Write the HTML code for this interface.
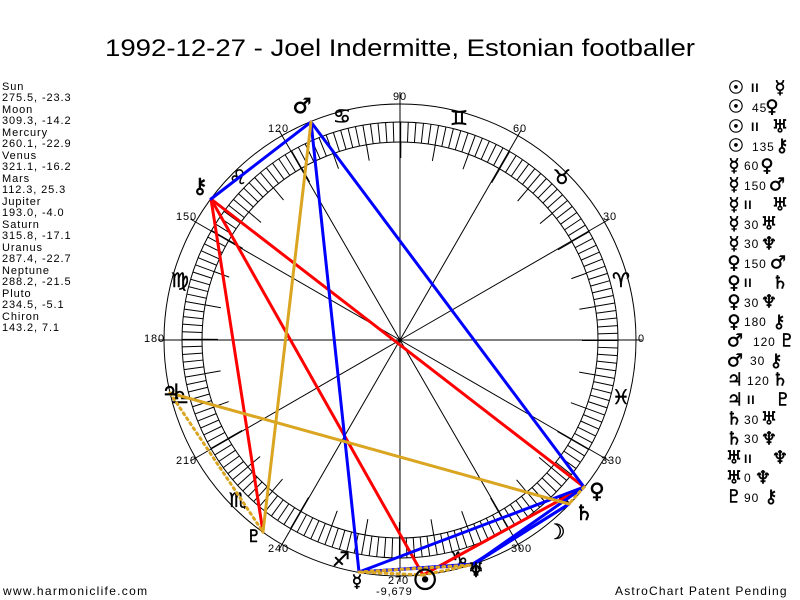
<!DOCTYPE html>
<html><head><meta charset="utf-8"><style>
body{margin:0;background:#fff;width:800px;height:600px;overflow:hidden;}
svg{display:block}
.g{font-family:"DejaVu Sans",sans-serif;}
.t{font-family:"Liberation Sans","DejaVu Sans",sans-serif;}
.w{letter-spacing:0.9px}
</style></head><body>
<svg width="800" height="600" xmlns="http://www.w3.org/2000/svg">
<rect width="800" height="600" fill="#fff"/>
<text x="400" y="56" text-anchor="middle" class="t" font-size="24" textLength="590" lengthAdjust="spacingAndGlyphs">1992-12-27 - Joel Indermitte, Estonian footballer</text>

<g fill="none" stroke="#000" stroke-width="1">
<circle cx="400" cy="340" r="236"/>
<circle cx="400" cy="340" r="218"/>
<circle cx="400" cy="340" r="198"/>
<circle cx="400" cy="340" r="208" stroke-width="20" stroke-dasharray="1 6.26"/>
<circle cx="400" cy="340" r="190" stroke-width="16" stroke-dasharray="1 32.16"/>
</g>
<g stroke="#000" stroke-width="1">
<line x1="400" y1="340" x2="642" y2="340"/>
<line x1="400" y1="340" x2="609.6" y2="219"/>
<line x1="400" y1="340" x2="521" y2="130.4"/>
<line x1="400" y1="340" x2="400" y2="92"/>
<line x1="400" y1="340" x2="279" y2="130.4"/>
<line x1="400" y1="340" x2="190.4" y2="219"/>
<line x1="400" y1="340" x2="158" y2="340"/>
<line x1="400" y1="340" x2="190.4" y2="461"/>
<line x1="400" y1="340" x2="279" y2="549.6"/>
<line x1="400" y1="340" x2="400" y2="582"/>
<line x1="400" y1="340" x2="521" y2="549.6"/>
<line x1="400" y1="340" x2="609.6" y2="461"/>
</g>
<g class="t w" font-size="11" fill="#000">
<text x="638" y="342">0</text>
<text x="603" y="220">30</text>
<text x="513" y="132">60</text>
<text x="393" y="100">90</text>
<text x="268" y="132">120</text>
<text x="176" y="220">150</text>
<text x="144" y="342">180</text>
<text x="176" y="464">210</text>
<text x="268" y="552">240</text>
<text x="388" y="584">270</text>
<text x="511" y="552">300</text>
<text x="601" y="464">330</text>
<text x="376" y="595">-9,679</text>
</g>
<g class="g" font-size="20" fill="#000" stroke="#000" stroke-width="0.5" text-anchor="middle" dominant-baseline="central">
<text x="621" y="280">♈&#xFE0E;</text>
<text x="562" y="177">♉&#xFE0E;</text>
<text x="459" y="118">♊&#xFE0E;</text>
<text x="342" y="116">♋&#xFE0E;</text>
<text x="238" y="177">♌&#xFE0E;</text>
<text x="180" y="280">♍&#xFE0E;</text>
<text x="180" y="397">♎&#xFE0E;</text>
<text x="238" y="500">♏&#xFE0E;</text>
<text x="341" y="559">♐&#xFE0E;</text>
<text x="459" y="559">♑&#xFE0E;</text>
<text x="562" y="500">♒&#xFE0E;</text>
<text x="621" y="397">♓&#xFE0E;</text>
</g>
<g stroke-width="3" fill="none" stroke-linecap="round">
<g stroke="#f00">
<line x1="423" y1="575" x2="584" y2="487"/>
<line x1="423" y1="575" x2="211" y2="199"/>
<line x1="584" y1="487" x2="211" y2="199"/>
<line x1="263" y1="532" x2="211" y2="199"/>
</g>
<g stroke="#00f">
<line x1="359" y1="572" x2="584" y2="487"/>
<line x1="359" y1="572" x2="311" y2="122"/>
<line x1="359" y1="572" x2="471" y2="565"/>
<line x1="359" y1="572" x2="474" y2="564"/>
<line x1="584" y1="487" x2="311" y2="122"/>
<line x1="584" y1="487" x2="474" y2="564"/>
<line x1="311" y1="122" x2="211" y2="199"/>
<line x1="569" y1="504" x2="471" y2="565"/>
<line x1="569" y1="504" x2="474" y2="564"/>
<line x1="471" y1="565" x2="474" y2="564"/>
</g>
<g stroke="#daa520">
<line x1="311" y1="122" x2="263" y2="532"/>
<line x1="170" y1="393" x2="569" y2="504"/>
</g>
<g stroke="#daa520" stroke-dasharray="2 4">
<line x1="423" y1="575" x2="359" y2="572"/>
<line x1="423" y1="575" x2="471" y2="565"/>
<line x1="359" y1="572" x2="471" y2="565"/>
<line x1="584" y1="487" x2="569" y2="504"/>
<line x1="170" y1="393" x2="263" y2="532"/>
</g>
</g>
<g class="g" fill="#000" stroke="#000" stroke-width="0.6" text-anchor="middle" dominant-baseline="central" font-size="21">
<text x="302" y="106">♂&#xFE0E;</text>
<text x="200" y="186">⚷</text>
<text x="597" y="491">♀&#xFE0E;</text>
<text x="584" y="513">♄&#xFE0E;</text>
<text x="556" y="532">☽&#xFE0E;</text>
<text x="425" y="580" font-size="28" stroke-width="1.2">☉&#xFE0E;</text>
<text x="357" y="582" font-size="17">☿&#xFE0E;</text>
<text x="476" y="570" font-size="17">♅&#xFE0E;</text>
<text x="476" y="572" font-size="17">♆&#xFE0E;</text>
<text x="254" y="537" font-size="17">♇&#xFE0E;</text>
<text x="171" y="392">♃&#xFE0E;</text>
</g>
<g class="t w" font-size="11" fill="#000">
<text x="2" y="90">Sun</text><text x="2" y="101">275.5, -23.3</text>
<text x="2" y="113">Moon</text><text x="2" y="124">309.3, -14.2</text>
<text x="2" y="136">Mercury</text><text x="2" y="147">260.1, -22.9</text>
<text x="2" y="159">Venus</text><text x="2" y="170">321.1, -16.2</text>
<text x="2" y="182">Mars</text><text x="2" y="193">112.3, 25.3</text>
<text x="2" y="205">Jupiter</text><text x="2" y="216">193.0, -4.0</text>
<text x="2" y="228">Saturn</text><text x="2" y="239">315.8, -17.1</text>
<text x="2" y="251">Uranus</text><text x="2" y="262">287.4, -22.7</text>
<text x="2" y="274">Neptune</text><text x="2" y="285">288.2, -21.5</text>
<text x="2" y="297">Pluto</text><text x="2" y="308">234.5, -5.1</text>
<text x="2" y="320">Chiron</text><text x="2" y="331">143.2, 7.1</text>
</g>
<g fill="#000">
<g class="g" font-size="18" stroke="#000" stroke-width="0.5" dominant-baseline="central" text-anchor="middle">
<text x="736" y="88">☉&#xFE0E;</text><text x="780" y="88">☿&#xFE0E;</text>
<text x="736" y="107">☉&#xFE0E;</text><text x="772" y="107">♀&#xFE0E;</text>
<text x="736" y="127">☉&#xFE0E;</text><text x="780" y="127">♅&#xFE0E;</text>
<text x="736" y="146">☉&#xFE0E;</text><text x="782" y="146">⚷</text>
<text x="734" y="166">☿&#xFE0E;</text><text x="767" y="166">♀&#xFE0E;</text>
<text x="734" y="185">☿&#xFE0E;</text><text x="777" y="185">♂&#xFE0E;</text>
<text x="734" y="205">☿&#xFE0E;</text><text x="780" y="205">♅&#xFE0E;</text>
<text x="734" y="224">☿&#xFE0E;</text><text x="769" y="224">♅&#xFE0E;</text>
<text x="734" y="244">☿&#xFE0E;</text><text x="769" y="244">♆&#xFE0E;</text>
<text x="734" y="263">♀&#xFE0E;</text><text x="778" y="263">♂&#xFE0E;</text>
<text x="734" y="283">♀&#xFE0E;</text><text x="780" y="283">♄&#xFE0E;</text>
<text x="734" y="302">♀&#xFE0E;</text><text x="769" y="302">♆&#xFE0E;</text>
<text x="734" y="322">♀&#xFE0E;</text><text x="779" y="322">⚷</text>
<text x="735" y="341">♂&#xFE0E;</text><text x="787" y="341">♇&#xFE0E;</text>
<text x="735" y="361">♂&#xFE0E;</text><text x="776" y="361">⚷</text>
<text x="735" y="380">♃&#xFE0E;</text><text x="780" y="380">♄&#xFE0E;</text>
<text x="735" y="400">♃&#xFE0E;</text><text x="783" y="400">♇&#xFE0E;</text>
<text x="734" y="419">♄&#xFE0E;</text><text x="769" y="419">♅&#xFE0E;</text>
<text x="734" y="439">♄&#xFE0E;</text><text x="769" y="439">♆&#xFE0E;</text>
<text x="734" y="458">♅&#xFE0E;</text><text x="780" y="458">♆&#xFE0E;</text>
<text x="734" y="478">♅&#xFE0E;</text><text x="763" y="478">♆&#xFE0E;</text>
<text x="734" y="497">♇&#xFE0E;</text><text x="771" y="497">⚷</text>
</g>
<g class="t w" font-size="12" dominant-baseline="central">
<text x="751" y="88" font-weight="bold">II</text>
<text x="752" y="108">45</text>
<text x="751" y="127" font-weight="bold">II</text>
<text x="752" y="147">135</text>
<text x="744" y="166">60</text>
<text x="744" y="186">150</text>
<text x="744" y="205" font-weight="bold">II</text>
<text x="744" y="225">30</text>
<text x="744" y="244">30</text>
<text x="744" y="264">150</text>
<text x="744" y="283" font-weight="bold">II</text>
<text x="744" y="303">30</text>
<text x="744" y="322">180</text>
<text x="753" y="342">120</text>
<text x="750" y="361">30</text>
<text x="747" y="381">120</text>
<text x="747" y="400" font-weight="bold">II</text>
<text x="744" y="420">30</text>
<text x="744" y="439">30</text>
<text x="744" y="459" font-weight="bold">II</text>
<text x="744" y="478">0</text>
<text x="744" y="498">90</text>
</g>
</g>
<text x="3" y="595" class="t" font-size="12" letter-spacing="1.3">www.harmoniclife.com</text>
<text x="615" y="595" class="t" font-size="12" letter-spacing="1.2">AstroChart Patent Pending</text>
</svg>
</body></html>
